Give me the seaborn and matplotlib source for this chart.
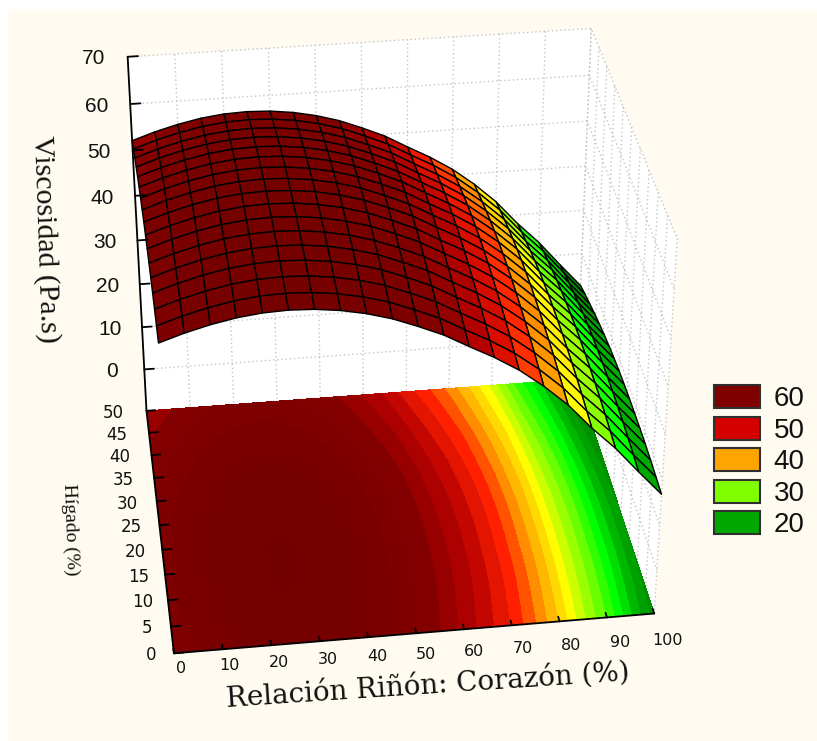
import numpy as np
import matplotlib
matplotlib.use("Agg")
import matplotlib.pyplot as plt
from matplotlib.patches import Patch, Rectangle
import seaborn as sns

# --- values ---
relacion = [0, 5, 10, 15, 20, 25, 30, 35, 40, 45, 50, 55, 60, 65, 70, 75, 80, 85, 90, 95, 100]
visc_profile = [57.3, 58.9, 60.2, 61.2, 61.8, 62, 61.8, 61.2, 60.2, 58.8, 56.9, 54.8, 52.1, 49.5,
                46.5, 42.8, 38.5, 33.2, 28.5, 23, 17.7]
higado = [0, 3.125, 6.25, 9.375, 12.5, 15.625, 18.75, 21.875, 25, 28.125, 31.25, 34.375,
          37.5, 40.625, 43.75, 46.875, 50]
higado_shift = [-0.8, -0.5, -0.2, 0, 0.1, 0.1, 0.1, 0, -0.2, -0.5, -0.9, -1.4,
                -2.0, -2.7, -3.5, -4.3, -5.2]
x_ticks = [0, 10, 20, 30, 40, 50, 60, 70, 80, 90, 100]
y_ticks = [0, 5, 10, 15, 20, 25, 30, 35, 40, 45, 50]
z_ticks = [0, 10, 20, 30, 40, 50, 60, 70]
legend_values = [60, 50, 40, 30, 20]
legend_colors = ["#800000", "#D40000", "#FFA500", "#80FF00", "#00A800"]
ramp_colors = ["#003000", "#004800", "#006000", "#008000", "#00A800", "#00FF00", "#80FF00",
               "#FFFF00", "#FFA500", "#FF2000", "#B80000", "#820000", "#780000", "#700000", "#700000"]
x_label = "Relación Riñón: Corazón (%)"
y_label = "Hígado (%)"
z_label = "Viscosidad (Pa.s)"

W, H = 817, 741
sns.set_theme(style="white", rc={"grid.color": "#C4C4C4", "grid.linestyle": (0, (1, 2)),
                                 "grid.linewidth": 1.0})
CREAM = "#FFFBF0"
fig = plt.figure(figsize=(W / 100, H / 100), dpi=100, facecolor="white")
fig.add_artist(Rectangle((8 / W, 0), 1, 1 - 9 / H, transform=fig.transFigure, fc=CREAM, ec="none", zorder=-5))

cmap = sns.blend_palette(ramp_colors, n_colors=256, as_cmap=True)
X, Y = np.meshgrid(relacion, higado)
Z = np.add.outer(np.array(higado_shift), np.array(visc_profile))
FLOOR = -10

ax = fig.add_axes([-0.037, 0.038, 1.0, 1.0], projection="3d", computed_zorder=False)
ax.set_facecolor("none")
ax.set_proj_type("persp", focal_length=0.75)
ax.view_init(elev=33, azim=-97.5)
ax.set_box_aspect((1.02, 0.9, 0.93), zoom=1.007)

ax.contourf(X, Y, Z, levels=np.arange(0, 72, 2), zdir="z", offset=FLOOR, cmap=cmap,
            vmin=0, vmax=70, zorder=1, antialiased=False)
ax.plot_surface(X, Y, Z, cmap=cmap, vmin=0, vmax=70, rstride=1, cstride=1, shade=False,
                edgecolor="black", linewidth=1.0, zorder=3)

# axis lines and ticks
line = dict(color="black", lw=1.3, zorder=5)
ax.plot([0, 100], [0, 0], [FLOOR, FLOOR], **line)
ax.plot([0, 0], [0, 50], [FLOOR, FLOOR], **line)
ax.plot([0, 0], [50, 50], [FLOOR, 70], **line)
for v in x_ticks:
    ax.plot([v, v], [0, 0.9], [FLOOR, FLOOR], **line)
    ax.text(v + 1, -2.8 - 0.023 * v, FLOOR, str(v), fontsize=11.5, family="DejaVu Sans", color="#111111",
            ha="center", va="center", rotation=4)
for v in y_ticks:
    ax.plot([0, 2], [v, v], [FLOOR, FLOOR], **line)
    ax.text(-4.7 - 0.058 * v, v, FLOOR, str(v), fontsize=12, family="DejaVu Sans", color="#111111",
            ha="center", va="center")
for v in z_ticks:
    ax.plot([0, 2.2], [50, 50], [v, v], **line)
    ax.text(-7.2, 50, v, str(v), fontsize=15, family="Liberation Sans", color="#111111",
            ha="center", va="center")

ax.set_xticks(x_ticks)
ax.set_yticks(y_ticks)
ax.set_zticks(z_ticks)
ax.set_xticklabels([])
ax.set_yticklabels([])
ax.set_zticklabels([])
for axis in (ax.xaxis, ax.yaxis, ax.zaxis):
    axis.set_pane_color("white")
    axis.pane.set_edgecolor("none")
    axis.line.set_color((1, 1, 1, 0))
    axis._axinfo["tick"]["inward_factor"] = 0
    axis._axinfo["tick"]["outward_factor"] = 0
ax.set_xlim(0, 100)
ax.set_ylim(0, 50)
ax.set_zlim(FLOOR, 70)

fig.text(428 / W, 1 - 686 / H, x_label, fontsize=20, family="DejaVu Serif", color="#111111",
         ha="center", va="center", rotation=3.8)
fig.text(70 / W, 1 - 530 / H, y_label, fontsize=14, family="Liberation Serif", color="#111111",
         ha="center", va="center", rotation=-88)
fig.text(45 / W, 1 - 239 / H, z_label, fontsize=21.5, family="Liberation Serif", color="#111111",
         ha="center", va="center", rotation=-88)

handles = [Patch(facecolor=c, edgecolor="#303030", linewidth=1.5) for c in legend_colors]
fig.legend(handles, [str(v) for v in legend_values], loc="upper left",
           bbox_to_anchor=(714 / W, 1 - 385 / H), borderaxespad=0, borderpad=0, frameon=False,
           prop={"family": "Liberation Sans", "size": 20}, handlelength=1.66, handleheight=0.9,
           labelspacing=0.16, handletextpad=0.48, labelcolor="#111111")

fig.savefig("out.png", dpi=100, facecolor="white")
